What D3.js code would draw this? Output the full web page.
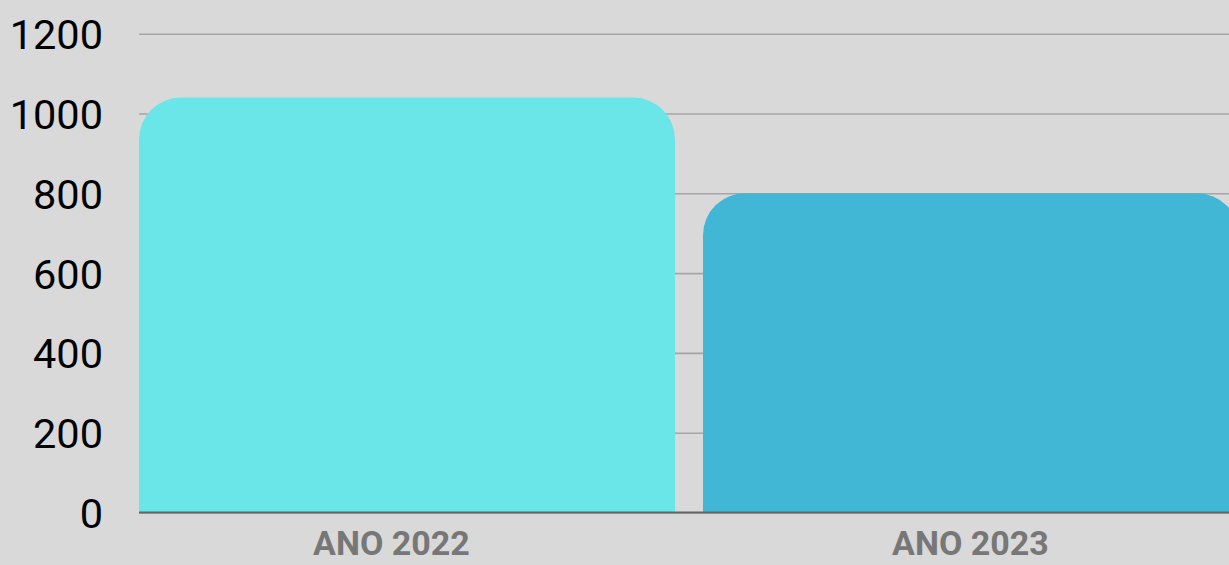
<!DOCTYPE html>
<html>
<head>
<meta charset="utf-8">
<script src="https://cdn.jsdelivr.net/npm/d3@7"></script>
<style>
  html, body { margin: 0; padding: 0; background: #d9d9d9; overflow: hidden; }
  svg { display: block; }
</style>
</head>
<body>
<svg id="chart" width="1229" height="565"></svg>
<script>
// Annual totals
const categories = ["ANO 2022", "ANO 2023"];
const values = [1040, 800];
const barColors = ["#6ae5e8", "#41b6d5"];
const yTicks = [0, 200, 400, 600, 800, 1000, 1200];

const width = 1229, height = 565;
const svg = d3.select("#chart");

svg.append("rect").attr("width", width).attr("height", height).attr("fill", "#d9d9d9");

const plotLeft = 139;
const y = d3.scaleLinear().domain([0, 1200]).range([512.5, 33.7]);

const x = d3.scaleBand()
  .domain(categories)
  .range([plotLeft, 1239])
  .paddingInner(0.0496)
  .paddingOuter(0);

const xLabel = d3.scalePoint()
  .domain(categories)
  .range([391.5, 970.5]);

// Gridlines and tick labels
const yAxis = d3.axisLeft(y)
  .tickValues(yTicks)
  .tickSizeInner(-(width - plotLeft))
  .tickSizeOuter(0)
  .tickPadding(36)
  .tickFormat(d3.format("d"));

const gAxis = svg.append("g")
  .attr("transform", `translate(${plotLeft},0)`)
  .call(yAxis);
gAxis.select(".domain").remove();
gAxis.selectAll(".tick line")
  .attr("stroke", "#a6a6a6")
  .attr("stroke-width", 1.6);
gAxis.selectAll(".tick text")
  .attr("fill", "#000")
  .style("font-family", "Roboto, sans-serif")
  .style("font-size", "41.5px")
  .attr("dy", "0.36em");

// Bars with rounded top corners
const r = 42;
function topRoundedBar(x0, y0, w, y1) {
  const rr = Math.min(r, w / 2, (y1 - y0));
  return `M${x0},${y1}` +
    `V${y0 + rr}` +
    `A${rr},${rr} 0 0 1 ${x0 + rr},${y0}` +
    `H${x0 + w - rr}` +
    `A${rr},${rr} 0 0 1 ${x0 + w},${y0 + rr}` +
    `V${y1}Z`;
}

svg.append("g").selectAll("path")
  .data(categories)
  .join("path")
  .attr("d", (c, i) => topRoundedBar(x(c), y(values[i]), x.bandwidth(), y(0)))
  .attr("fill", (c, i) => barColors[i]);

// Baseline
svg.append("line")
  .attr("x1", plotLeft).attr("x2", width)
  .attr("y1", y(0)).attr("y2", y(0))
  .attr("stroke", "#666")
  .attr("stroke-width", 2);

// Category labels
svg.append("g").selectAll("text")
  .data(categories)
  .join("text")
  .attr("x", c => xLabel(c))
  .attr("y", 555)
  .attr("text-anchor", "middle")
  .attr("fill", "#777")
  .style("font-family", "Roboto, sans-serif")
  .style("font-weight", "700")
  .style("font-size", "34px")
  .text(c => c);
</script>
</body>
</html>
